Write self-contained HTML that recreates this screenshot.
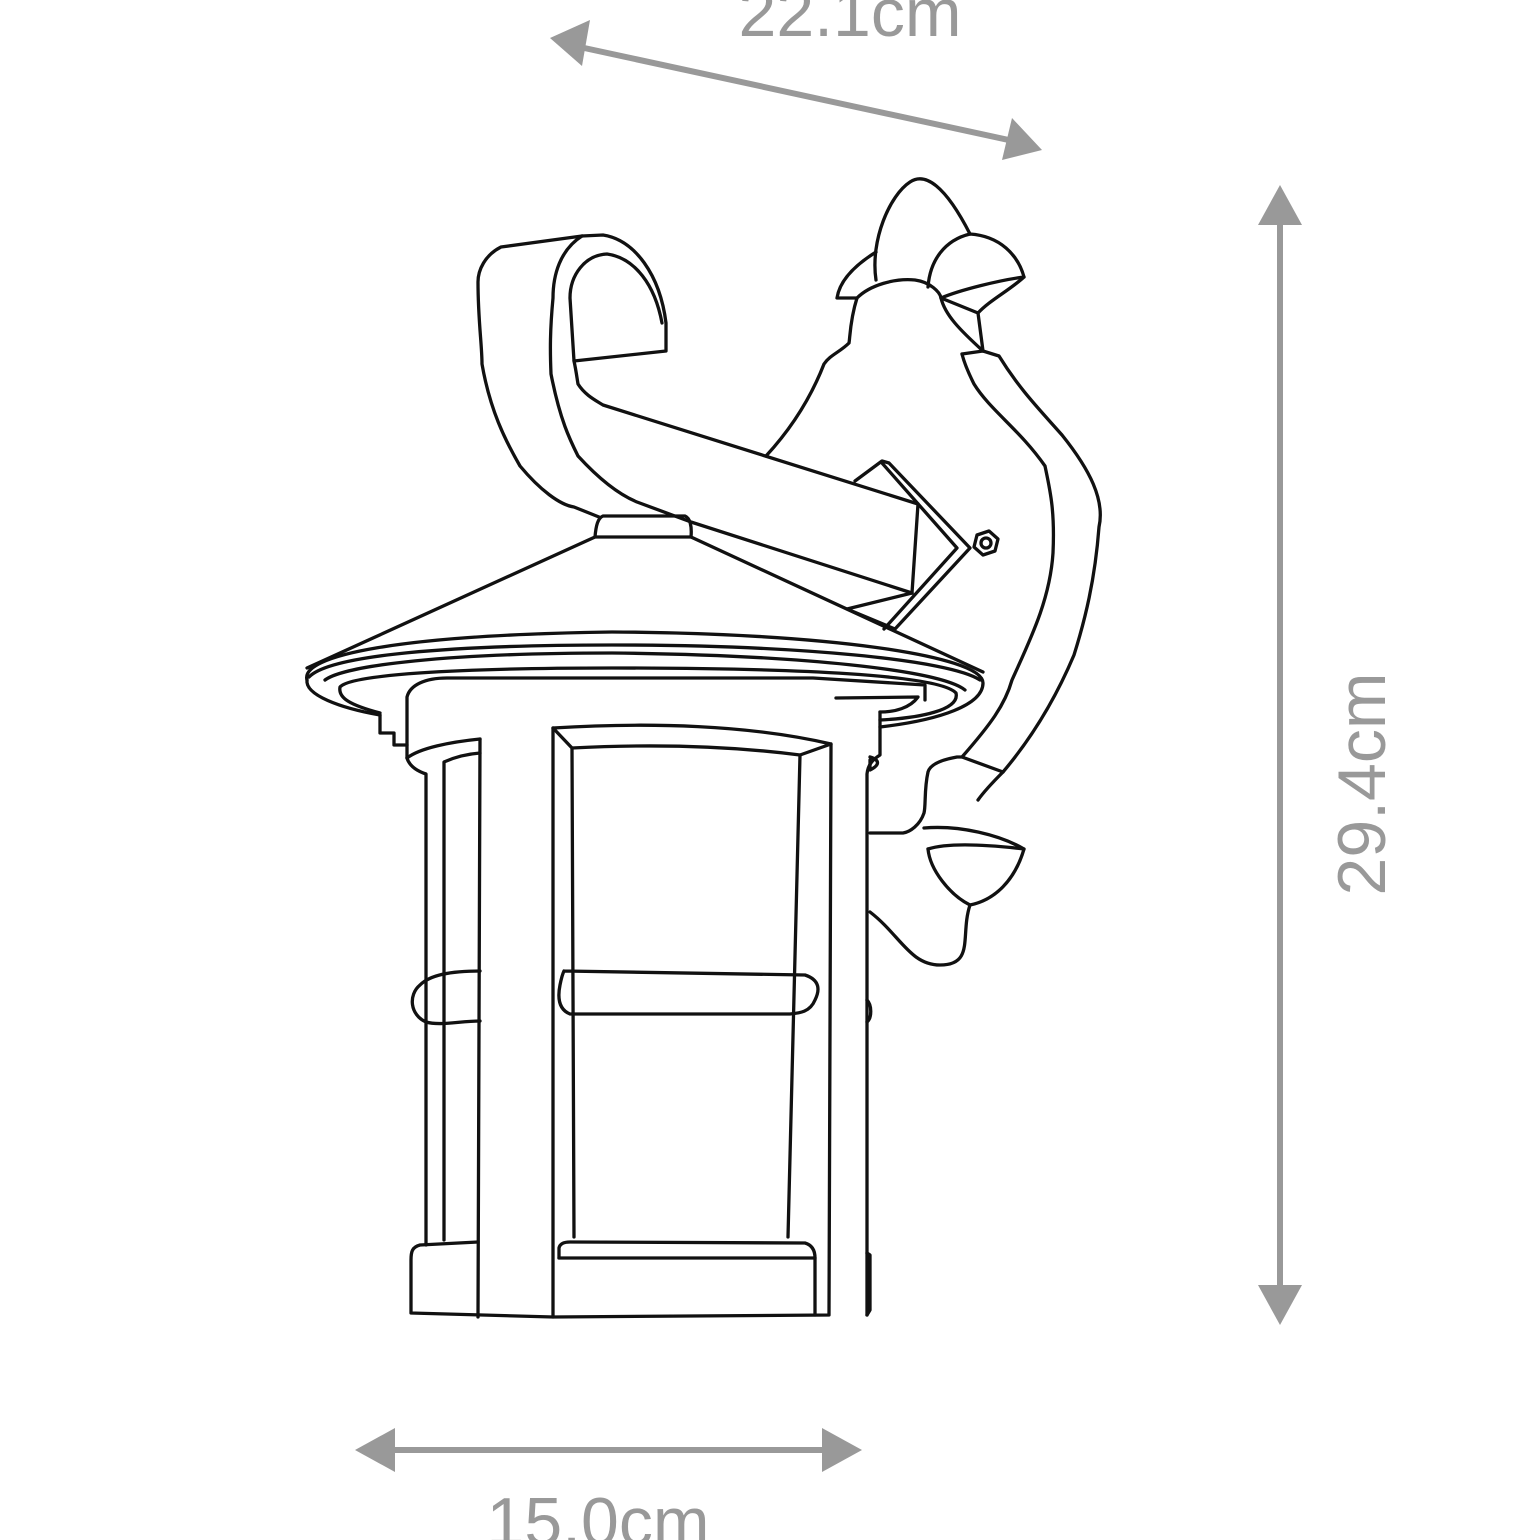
<!DOCTYPE html>
<html><head><style>html,body{margin:0;padding:0;background:#fff;width:1540px;height:1540px;overflow:hidden}</style></head>
<body>
<svg width="1540" height="1540" viewBox="0 0 1540 1540" xmlns="http://www.w3.org/2000/svg">
<g fill="#999" stroke="none">
  <text x="850" y="36" font-family="Liberation Sans, sans-serif" font-size="68" text-anchor="middle">22.1cm</text>
  <text x="598" y="1545" font-family="Liberation Sans, sans-serif" font-size="68" text-anchor="middle">15.0cm</text>
  <text transform="translate(1385,784) rotate(-90)" font-family="Liberation Sans, sans-serif" font-size="68" text-anchor="middle">29.4cm</text>
</g>
<g stroke="#999" stroke-width="6" fill="#999">
  <line x1="575" y1="46" x2="1018" y2="142"/>
  <polygon points="550,38 590,20 582,66" stroke="none"/>
  <polygon points="1042,150 1002,160 1012,118" stroke="none"/>
  <line x1="1280" y1="215" x2="1280" y2="1295"/>
  <polygon points="1280,185 1302,225 1258,225" stroke="none"/>
  <polygon points="1280,1325 1302,1285 1258,1285" stroke="none"/>
  <line x1="385" y1="1450" x2="832" y2="1450"/>
  <polygon points="355,1450 395,1428 395,1472" stroke="none"/>
  <polygon points="862,1450 822,1428 822,1472" stroke="none"/>
</g>
<g stroke="#111" stroke-width="3.3" fill="none" stroke-linejoin="round" stroke-linecap="round">
  <path d="M876,252 C860,262 840,278 837,298 L857,298 C850,320 850,338 849,343 C840,352 830,355 824,364 C810,400 790,430 766,456"/>
  <path d="M876,280 C870,240 890,195 910,182 C925,172 945,185 970,234"/>
  <path d="M857,298 C870,285 895,278 915,280 C930,282 940,292 941,298 C945,315 960,330 983,351"/>
  <path d="M928,287 C930,260 945,240 970,234 C1000,236 1018,255 1024,277 C1000,280 960,290 941,298"/>
  <path d="M941,298 L978,313 L983,351 L962,354"/>
  <path d="M978,313 C990,300 1010,290 1024,277"/>
  <path d="M983,351 L999,356 C1020,390 1040,410 1062,435 C1090,470 1105,500 1099,527 C1095,580 1085,620 1074,655 C1055,700 1030,740 1003,772 L962,757 C990,725 1005,705 1012,680 C1030,640 1050,600 1053,553 C1055,510 1050,490 1045,466 C1020,430 990,410 974,384 C968,372 964,362 962,354"/>
  <path d="M962,757 L957,757 C940,760 930,765 928,772 C924,790 926,805 924,813 C920,825 910,832 903,833 L870,833"/>
  <path d="M1003,772 C995,780 985,790 978,800"/>
  <path d="M924,828 C960,825 1000,835 1024,849 C1015,880 995,900 970,905 C950,895 930,870 928,849"/>
  <path d="M928,849 C950,842 990,845 1024,849"/>
  <path d="M970,905 C960,935 975,965 940,965 C910,965 900,935 870,912"/>
  <path d="M870,760 L870,770 C880,765 880,760 870,757"/>
  <path d="M582,236 L501,247 C485,255 478,270 478,282 C478,320 482,345 482,364 C490,410 505,440 520,466 C540,490 560,505 574,507 L599,517"/>
  <path d="M582,236 L603,235 C635,240 660,275 666,323 L666,351 L574,361"/>
  <path d="M582,236 C560,250 553,275 553,298 C550,330 550,350 551,374 C560,420 570,440 578,456 C600,480 620,495 637,502 L691,522 L912,593"/>
  <path d="M662,323 C655,285 635,258 607,254 C585,255 570,275 570,298 L574,361 C576,370 577,378 578,384 C585,395 595,400 603,405 L918,504 L912,593"/>
  <path d="M855,481 L882,461 L889,463 L970,548 L895,629 L847,609 L912,593"/>
  <path d="M882,463 L957,548 L884,629"/>
  <polygon points="977,535 989,531 998,539 995,551 983,555 974,547"/>
  <circle cx="986" cy="543" r="5"/>
  <path d="M595,537 C596,525 598,518 603,516 L685,516 C690,518 692,526 691,537"/>
  <path d="M307,668 L595,537 L691,537 L983,672"/>
  <path d="M307,680 C300,655 400,635 612,632 C820,633 983,655 983,683 C983,705 940,720 880,727"/>
  <path d="M380,715 C340,708 305,695 307,680"/>
  <path d="M309,677 C330,655 450,645 612,645 C800,645 950,660 980,680"/>
  <path d="M325,680 C345,665 450,653 612,653 C800,655 940,670 965,690"/>
  <path d="M380,713 C350,705 338,698 340,687 C350,675 450,668 612,668 C800,668 940,675 956,693 C960,710 920,718 880,720"/>
  <path d="M380,715 L380,733 L394,733 L394,745 L407,745"/>
  <path d="M407,758 L407,697 C410,685 425,678 447,678 L813,678 L925,685 L925,700"/>
  <path d="M836,698 L918,697 C910,708 895,712 880,712"/>
  <path d="M880,712 L880,755 C872,760 868,765 867,774 L867,1315"/>
  <path d="M407,758 C410,768 420,772 426,774 L426,1245"/>
  <path d="M407,758 C420,748 450,742 480,739"/>
  <path d="M444,1240 L444,762 C455,757 467,754 480,753"/>
  <path d="M480,971 C450,971 430,975 420,985 C408,995 410,1015 426,1022 C440,1026 460,1021 480,1021"/>
  <path d="M478,1242 L420,1245 C412,1247 411,1252 411,1260 L411,1313 L553,1317"/>
  <line x1="480" y1="739" x2="478" y2="1317"/>
  <path d="M553,1317 L553,728 C650,722 750,725 831,744 L829,1315 L553,1317"/>
  <path d="M553,728 L572,748 L574,1237"/>
  <path d="M572,748 C650,744 730,746 800,755 L831,744"/>
  <path d="M800,755 L788,1237"/>
  <path d="M564,971 L805,975 C820,980 820,990 815,1000 C810,1012 800,1013 790,1014 L570,1014 C560,1010 557,1000 560,985 C562,975 564,971 564,971"/>
  <path d="M559,1258 L559,1248 C560,1243 565,1242 570,1242 L805,1243 C812,1245 815,1250 815,1258 L815,1315"/>
  <line x1="559" y1="1258" x2="815" y2="1258"/>
  <path d="M867,1000 C872,1005 872,1018 867,1022"/>
  <path d="M867,1253 L870,1255 L870,1310 L867,1315"/>
</g>
</svg>
</body></html>
